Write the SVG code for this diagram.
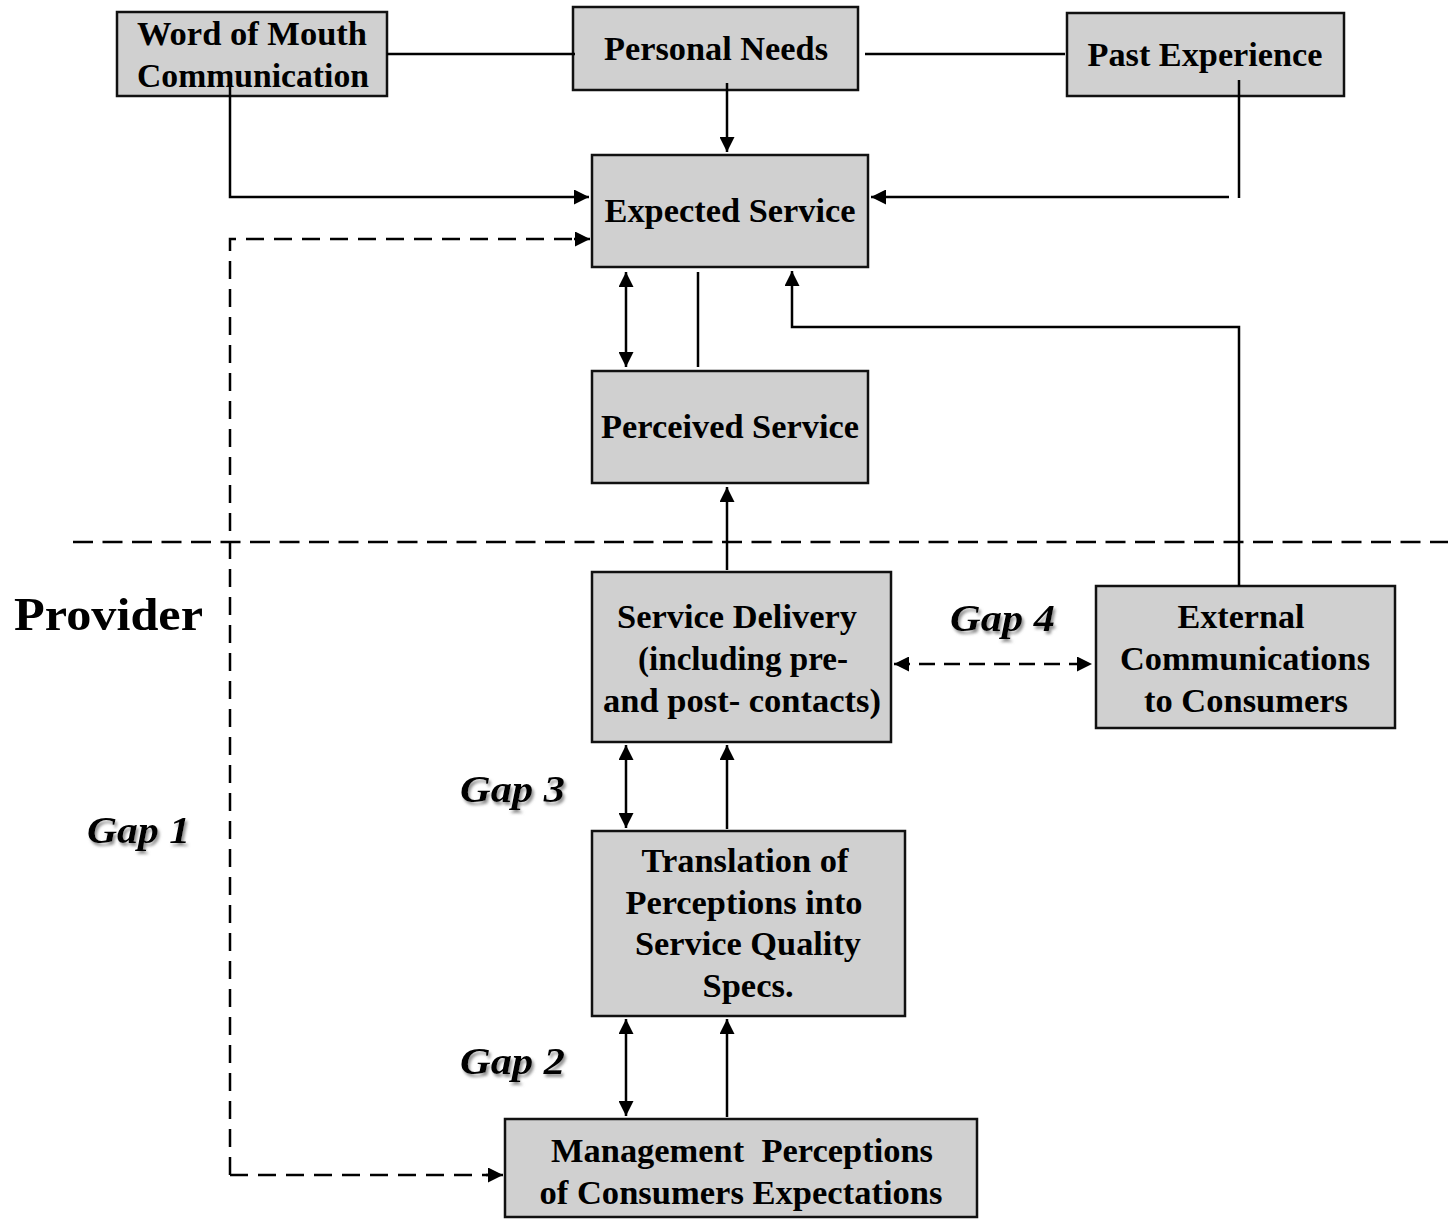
<svg xmlns="http://www.w3.org/2000/svg" width="1448" height="1221" viewBox="0 0 1448 1221">
<defs>
<marker id="ah" markerUnits="userSpaceOnUse" markerWidth="15" markerHeight="15" refX="15" refY="7.5" orient="auto-start-reverse">
<path d="M0,0 L15,7.5 L0,15 z" fill="#000"/>
</marker>
<filter id="sh" x="-20%" y="-20%" width="150%" height="150%">
<feDropShadow dx="2" dy="3" stdDeviation="1.8" flood-color="#777" flood-opacity="0.8"/>
</filter>
<style>
.box{fill:#d0d0d0;stroke:#111;stroke-width:2.5}
.t{font-family:"Times New Roman","Liberation Serif",Times,serif;font-weight:bold;font-size:34px;fill:#000;text-anchor:middle}
.gap{font-family:"Times New Roman","Liberation Serif",Times,serif;font-weight:bold;font-style:italic;font-size:38px;fill:#000}
.ln{fill:none;stroke:#000;stroke-width:2.5}
.ar{fill:none;stroke:#000;stroke-width:2.5;marker-end:url(#ah)}
.da{fill:none;stroke:#000;stroke-width:2.5;stroke-dasharray:18 10}
</style>
</defs>
<rect width="1448" height="1221" fill="#fff"/>

<g id="word-of-mouth">
<rect class="box" x="117" y="12" width="270" height="84"/>
<text class="t" x="252" y="45" textLength="230" lengthAdjust="spacingAndGlyphs">Word of Mouth</text>
<text class="t" x="253" y="87" textLength="232" lengthAdjust="spacingAndGlyphs">Communication</text>
</g>
<g id="personal-needs">
<rect class="box" x="573" y="7" width="285" height="83"/>
<text class="t" x="716" y="60" textLength="224" lengthAdjust="spacingAndGlyphs">Personal Needs</text>
</g>
<g id="past-experience">
<rect class="box" x="1067" y="13" width="277" height="83"/>
<text class="t" x="1205" y="66" textLength="235" lengthAdjust="spacingAndGlyphs">Past Experience</text>
</g>
<g id="expected-service">
<rect class="box" x="592" y="155" width="276" height="112"/>
<text class="t" x="730" y="222" textLength="251" lengthAdjust="spacingAndGlyphs">Expected Service</text>
</g>
<g id="perceived-service">
<rect class="box" x="592" y="371" width="276" height="112"/>
<text class="t" x="730" y="438" textLength="258" lengthAdjust="spacingAndGlyphs">Perceived Service</text>
</g>
<g id="service-delivery">
<rect class="box" x="592" y="572" width="299" height="170"/>
<text class="t" x="737" y="628" textLength="240" lengthAdjust="spacingAndGlyphs">Service Delivery</text>
<text class="t" x="743" y="670" textLength="210" lengthAdjust="spacingAndGlyphs">(including pre-</text>
<text class="t" x="742" y="712" textLength="278" lengthAdjust="spacingAndGlyphs">and post- contacts)</text>
</g>
<g id="external-communications">
<rect class="box" x="1096" y="586" width="299" height="142"/>
<text class="t" x="1241" y="628" textLength="127" lengthAdjust="spacingAndGlyphs">External</text>
<text class="t" x="1245" y="670" textLength="250" lengthAdjust="spacingAndGlyphs">Communications</text>
<text class="t" x="1246" y="712" textLength="204" lengthAdjust="spacingAndGlyphs">to Consumers</text>
</g>
<g id="translation">
<rect class="box" x="592" y="831" width="313" height="185"/>
<text class="t" x="745" y="872" textLength="207" lengthAdjust="spacingAndGlyphs">Translation of</text>
<text class="t" x="744" y="914" textLength="237" lengthAdjust="spacingAndGlyphs">Perceptions into</text>
<text class="t" x="748" y="955" textLength="226" lengthAdjust="spacingAndGlyphs">Service Quality</text>
<text class="t" x="748" y="997" textLength="91" lengthAdjust="spacingAndGlyphs">Specs.</text>
</g>
<g id="management-perceptions">
<rect class="box" x="505" y="1119" width="472" height="98"/>
<text class="t" x="742" y="1162" textLength="382" lengthAdjust="spacingAndGlyphs" xml:space="preserve">Management  Perceptions</text>
<text class="t" x="741" y="1204" textLength="403" lengthAdjust="spacingAndGlyphs">of Consumers Expectations</text>
</g>

<g id="connectors">
<line class="ln" x1="387" y1="54" x2="575" y2="54"/>
<line class="ln" x1="865" y1="54" x2="1065" y2="54"/>
<line class="ar" x1="727" y1="83" x2="727" y2="152"/>
<polyline class="ar" points="230,83 230,197 589,197"/>
<line class="ln" x1="1239" y1="80" x2="1239" y2="198"/>
<line class="ar" x1="1229" y1="197" x2="871" y2="197"/>
<polyline class="da" points="230,1175 230,239 576,239"/>
<line class="ar" x1="574" y1="239" x2="590" y2="239"/>
<line class="da" x1="230" y1="1175" x2="488" y2="1175"/>
<line class="ar" x1="486" y1="1175" x2="503" y2="1175"/>
<line class="ln" x1="626" y1="272" x2="626" y2="367" marker-start="url(#ah)" marker-end="url(#ah)"/>
<line class="ln" x1="698" y1="272" x2="698" y2="367"/>
<polyline class="ar" points="1239,586 1239,327 792,327 792,271"/>
<line class="ar" x1="727" y1="570" x2="727" y2="487"/>
<line class="ln" x1="73" y1="542" x2="1448" y2="542" stroke-dasharray="20 9.5"/>
<line class="ln" x1="894" y1="664" x2="1092" y2="664" stroke-dasharray="16 9" marker-start="url(#ah)" marker-end="url(#ah)"/>
<line class="ln" x1="626" y1="745" x2="626" y2="828" marker-start="url(#ah)" marker-end="url(#ah)"/>
<line class="ar" x1="727" y1="829" x2="727" y2="745"/>
<line class="ln" x1="626" y1="1019" x2="626" y2="1116" marker-start="url(#ah)" marker-end="url(#ah)"/>
<line class="ar" x1="727" y1="1117" x2="727" y2="1019"/>
</g>

<g id="labels">
<text x="14" y="630" font-family="'Times New Roman','Liberation Serif',Times,serif" font-weight="bold" font-size="46" textLength="189" lengthAdjust="spacingAndGlyphs">Provider</text>
<text class="gap" x="87" y="843" textLength="103" lengthAdjust="spacingAndGlyphs" filter="url(#sh)">Gap 1</text>
<text class="gap" x="460" y="802" textLength="105" lengthAdjust="spacingAndGlyphs" filter="url(#sh)">Gap 3</text>
<text class="gap" x="460" y="1074" textLength="105" lengthAdjust="spacingAndGlyphs" filter="url(#sh)">Gap 2</text>
<text class="gap" x="950" y="631" textLength="105" lengthAdjust="spacingAndGlyphs" filter="url(#sh)">Gap 4</text>
</g>
</svg>
